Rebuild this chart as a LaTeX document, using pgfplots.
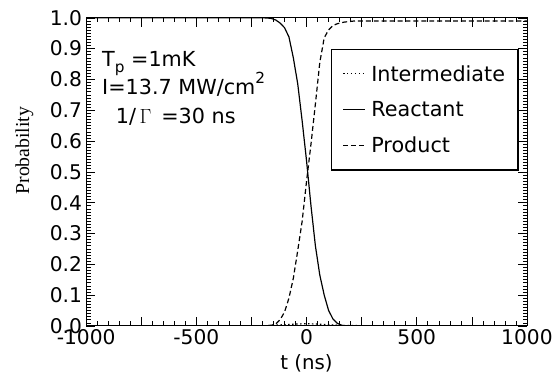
\documentclass[border=0pt]{standalone}
\usepackage{fontspec}
\setmainfont{DejaVu Sans}
\newfontfamily\serifrm{Liberation Serif}
\usepackage{pgfplots}
\pgfplotsset{compat=1.18}

\begin{document}
\begin{tikzpicture}
\begin{axis}[
  name=main,
  scale only axis,
  width=445bp, height=311bp,
  xmin=-1000, xmax=1000, ymin=0, ymax=1,
  axis line style={line width=0.8bp},
  xtick={-1000,-750,...,1000},
  xticklabels={-1000,,-500,,0,,500,,1000},
  ytick={0,0.1,...,1.0},
  yticklabels={0.0,0.1,0.2,0.3,0.4,0.5,0.6,0.7,0.8,0.9,1.0},
  minor x tick num=4,
  minor y tick num=9,
  tick align=inside,
  major tick length=9bp,
  minor tick length=4.5bp,
  every tick/.style={black, line width=0.6bp},
  tick label style={font=\fontsize{20.5}{22}\selectfont},
  yticklabel style={inner xsep=4bp},
  xticklabel style={inner ysep=3bp},
  /pgf/number format/assume math mode=true,
  xlabel={t (ns)},
  ylabel={\serifrm Probability},
  label style={font=\fontsize{20}{22}\selectfont},
  xlabel style={yshift=-4bp},
  ylabel style={at={(ticklabel cs:0.569)}, yshift=9bp},
  legend style={
    at={(0.555,0.90)}, anchor=north west,
    draw=black, line width=1.6bp,
    font=\fontsize{21}{22}\selectfont,
    row sep=15bp, inner xsep=11bp, inner ysep=14bp,
    legend cell align=left,
    /tikz/every odd column/.append style={column sep=4bp},
  },
  legend image code/.code={\draw[#1, line width=1.1bp] (0bp,0bp) -- (22bp,0bp);},
]
% intermediate population, stays near zero
\addplot[black, line width=1.2bp, dash pattern=on 1.5bp off 2.5bp] coordinates {
  (-1000,0) (-200,0) (-150,0.002) (-100,0.004) (-50,0.006) (0,0.007)
  (50,0.006) (100,0.004) (150,0.002) (200,0.001) (1000,0)
};
\addlegendentry{Intermediate}
% reactant population
\addplot[black, line width=1.2bp] coordinates {
  (-1000,1.0) (-200,1.0) (-180,0.9995) (-160,0.998) (-140,0.993) (-120,0.983)
  (-100,0.968) (-80,0.938) (-60,0.87) (-40,0.785) (-20,0.665) (0,0.535)
  (20,0.39) (40,0.26) (60,0.165) (80,0.10) (100,0.05) (120,0.022)
  (140,0.008) (160,0.002) (180,0.0) (1000,0.0)
};
\addlegendentry{Reactant}
% product population
\addplot[black, line width=1.2bp, dash pattern=on 5bp off 3bp] coordinates {
  (-1000,0) (-200,0) (-160,0.002) (-140,0.006) (-120,0.02) (-100,0.045)
  (-80,0.09) (-60,0.155) (-40,0.245) (-20,0.34) (0,0.47) (20,0.59)
  (40,0.72) (60,0.855) (80,0.935) (100,0.961) (120,0.975) (140,0.981)
  (170,0.986) (220,0.99) (1000,0.99)
};
\addlegendentry{Product}

% parameter annotations
\node[anchor=base west, inner sep=0pt, font=\fontsize{21}{24}\selectfont]
  at (axis description cs:0.036,0.842) {T\raisebox{-0.3em}{\fontsize{15.5}{16}\selectfont p} =1mK};
\node[anchor=base west, inner sep=0pt, font=\fontsize{21}{24}\selectfont]
  at (axis description cs:0.036,0.752) {I=13.7 MW/cm\raisebox{0.5em}{\fontsize{15.5}{16}\selectfont 2}};
\node[anchor=base west, inner sep=0pt, font=\fontsize{21}{24}\selectfont]
  at (axis description cs:0.067,0.656) {1/\,$\Gamma$\, =30 ns};
\end{axis}
% page frame around the axis
\path[use as bounding box] ([xshift=-87bp,yshift=-52bp]main.south west) rectangle ([xshift=24bp,yshift=18bp]main.north east);
\end{tikzpicture}
\end{document}
